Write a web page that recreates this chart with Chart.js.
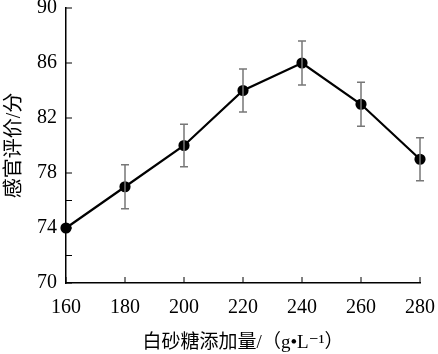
<!DOCTYPE html>
<html lang="zh">
<head>
<meta charset="UTF-8">
<title>感官评价</title>
<style>
    body { margin: 0; padding: 0; background: #fff; }
    #wrap { width: 438px; height: 354px; position: relative; }
</style>
</head>
<body>
<div id="wrap"><canvas id="chart"></canvas></div>
<script src="https://cdn.jsdelivr.net/npm/chart.js"></script>
<script>
// data
var sugar = [160, 180, 200, 220, 240, 260, 280];
var score = [74, 77, 80, 84, 86, 83, 79];
var scoreErr = [0, 1.6, 1.55, 1.57, 1.6, 1.6, 1.57];
var yTickValues = [70, 72, 74, 76, 78, 82, 86, 90];
var yLabelValues = [70, 74, 78, 82, 86, 90];

var serif = "'Liberation Serif', 'DejaVu Serif', 'Noto Sans CJK SC', serif";

// error bars + inward tick marks
var extras = {
    id: 'extras',
    afterDatasetsDraw: function (chart) {
        var c = chart.ctx, xs = chart.scales.x, ys = chart.scales.y;
        c.save();
        c.strokeStyle = '#777';
        c.lineWidth = 1.5;
        sugar.forEach(function (v, i) {
            if (!scoreErr[i]) return;
            var x = xs.getPixelForValue(v);
            var top = ys.getPixelForValue(score[i] + scoreErr[i]);
            var bot = ys.getPixelForValue(score[i] - scoreErr[i]);
            c.beginPath();
            c.moveTo(x, top); c.lineTo(x, bot);
            c.moveTo(x - 4, top); c.lineTo(x + 4, top);
            c.moveTo(x - 4, bot); c.lineTo(x + 4, bot);
            c.stroke();
        });
        c.strokeStyle = '#000';
        c.lineWidth = 1;
        var area = chart.chartArea;
        yTickValues.forEach(function (v) {
            var y = ys.getPixelForValue(v);
            c.beginPath(); c.moveTo(area.left, y); c.lineTo(area.left + 6, y); c.stroke();
        });
        sugar.forEach(function (v) {
            var x = xs.getPixelForValue(v);
            c.beginPath(); c.moveTo(x, area.bottom); c.lineTo(x, area.bottom - 6); c.stroke();
        });
        c.restore();
    }
};

new Chart(document.getElementById('chart'), {
    type: 'line',
    data: {
        datasets: [{
            data: sugar.map(function (v, i) { return { x: v, y: score[i] }; }),
            borderColor: '#000',
            backgroundColor: '#000',
            borderWidth: 2.2,
            pointRadius: 4.5,
            pointHoverRadius: 4.5,
            tension: 0
        }]
    },
    options: {
        responsive: true,
        maintainAspectRatio: false,
        animation: false,
        clip: false,
        layout: { padding: { top: 8, right: 18, left: 0, bottom: 0 } },
        plugins: { legend: { display: false }, tooltip: { enabled: false } },
        scales: {
            x: {
                type: 'linear',
                min: 160, max: 280,
                afterBuildTicks: function (s) { s.ticks = sugar.map(function (v) { return { value: v }; }); },
                afterFit: function (s) { s.height = 71; s.paddingLeft = 0; s.paddingRight = 0; },
                grid: { display: false, drawTicks: false },
                border: { display: true, color: '#000', width: 1.5 },
                ticks: { color: '#000', padding: 13, maxRotation: 0, font: { family: serif, size: 20 } },
                title: {
                    display: true,
                    text: '白砂糖添加量/（g•L⁻¹）',
                    color: '#000',
                    padding: { top: 3, bottom: 0 },
                    font: { family: serif, size: 19 }
                }
            },
            y: {
                min: 70, max: 90,
                afterBuildTicks: function (s) { s.ticks = yLabelValues.map(function (v) { return { value: v }; }); },
                afterFit: function (s) { s.width = 66; s.paddingTop = 0; s.paddingBottom = 0; },
                grid: { display: false, drawTicks: false },
                border: { display: true, color: '#000', width: 1.5 },
                ticks: { color: '#000', padding: 9, font: { family: serif, size: 20 } },
                title: {
                    display: true,
                    text: '感官评价/分',
                    color: '#000',
                    padding: { top: 3, bottom: 0 },
                    font: { family: serif, size: 20 }
                }
            }
        }
    },
    plugins: [extras]
});
</script>
</body>
</html>
